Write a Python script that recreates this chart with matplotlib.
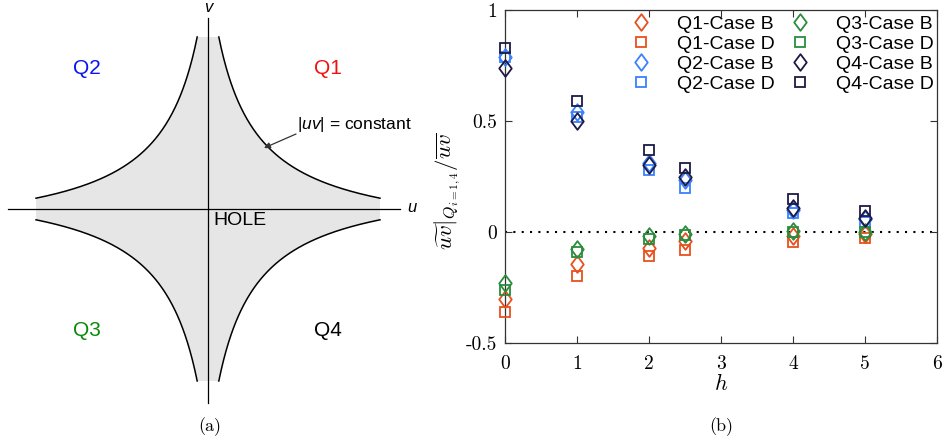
import numpy as np
import matplotlib
matplotlib.use("Agg")
import matplotlib.pyplot as plt
from matplotlib.path import Path

# ---------------- data ----------------
h = [0, 1, 2, 2.5, 4, 5]
q1_case_b = [-0.30, -0.145, -0.07, -0.04, -0.02, -0.01]
q1_case_d = [-0.36, -0.20, -0.11, -0.08, -0.045, -0.025]
q2_case_b = [0.79, 0.54, 0.31, 0.235, 0.10, 0.06]
q2_case_d = [0.79, 0.52, 0.28, 0.20, 0.085, 0.045]
q3_case_b = [-0.23, -0.075, -0.02, -0.01, 0.005, 0.0]
q3_case_d = [-0.26, -0.09, -0.03, -0.015, 0.0, 0.0]
q4_case_b = [0.74, 0.50, 0.30, 0.25, 0.11, 0.065]
q4_case_d = [0.83, 0.59, 0.37, 0.29, 0.15, 0.095]
series_labels = ["Q1-Case B", "Q1-Case D", "Q2-Case B", "Q2-Case D",
                 "Q3-Case B", "Q3-Case D", "Q4-Case B", "Q4-Case D"]
xticks = [0, 1, 2, 3, 4, 5, 6]
xticklabels = ["0", "1", "2", "3", "4", "5", "6"]
yticks = [-0.5, 0, 0.5, 1]
yticklabels = ["-0.5", "0", "0.5", "1"]

c_q1 = "#E8501E"
c_q2 = "#3A80FF"
c_q3 = "#2A8C3C"
c_q4 = "#1C1A45"

plt.rcParams['mathtext.fontset'] = 'cm'
plt.rcParams['mathtext.it'] = 'Liberation Sans:italic'
plt.rcParams['mathtext.rm'] = 'Liberation Sans'
W, H = 945, 445
fig = plt.figure(figsize=(W / 100, H / 100), dpi=100)

# ---------------- left panel: quadrant diagram ----------------
ox, oy = 208, 209
axL = fig.add_axes([0, 0, 440 / W, 1])
axL.set_xlim(0 - ox, 440 - ox)
axL.set_ylim(oy - H, oy)
axL.axis('off')

a_sh, c_sh = 30.6, 8390.0
L = 172.0
u_top = c_sh / (L + a_sh) - a_sh
uu = np.linspace(u_top, L, 200)
vv = c_sh / (uu + a_sh) - a_sh

px, py = [], []
px += list(uu); py += list(vv)
px += list(uu[::-1]); py += list(-vv[::-1])
px += list(-uu); py += list(-vv)
px += list(-uu[::-1]); py += list(vv[::-1])
axL.fill(px, py, color="#E6E6E6", lw=0, zorder=1)
for sx in (1, -1):
    for sy in (1, -1):
        axL.plot(sx * uu, sy * vv, color="black", lw=1.1, zorder=3)

axL.plot([8 - ox, 400 - ox], [0, 0], color="black", lw=0.9, zorder=2)
axL.plot([0, 0], [oy - 18, oy - 403], color="black", lw=0.9, zorder=2)

sans = ["Liberation Sans", "DejaVu Sans"]
axL.text(412 - ox, 1, "u", style="italic", family=sans, fontsize=12, ha="center", va="center")
axL.text(0, oy - 8, "v", style="italic", family=sans, fontsize=12, ha="center", va="center")
axL.text(87 - ox, oy - 68, "Q2", color="#0A14F0", family=sans, fontsize=15, ha="center", va="center")
axL.text(328 - ox, oy - 68, "Q1", color="#F01010", family=sans, fontsize=15, ha="center", va="center")
axL.text(87 - ox, oy - 330, "Q3", color="#0A8A0A", family=sans, fontsize=15, ha="center", va="center")
axL.text(328 - ox, oy - 330, "Q4", color="black", family=sans, fontsize=15, ha="center", va="center")
axL.text(213 - ox, oy - 221, "HOLE", color="black", family=sans, fontsize=14, ha="left", va="center")
axL.text(297 - ox, oy - 124, "|$\\mathit{uv}$| = constant", color="black", family=sans,
         fontsize=12.5, ha="left", va="center", math_fontfamily="custom")
axL.annotate("", xy=(264 - ox, oy - 148), xytext=(296 - ox, oy - 134),
             arrowprops=dict(arrowstyle="-|>", color="#333333", lw=0.9,
                             mutation_scale=9, shrinkA=0, shrinkB=0))

fig.text(210 / W, 1 - 427 / H, "(a)", family="cmr10", fontsize=13, ha="center", va="center")
fig.text(721 / W, 1 - 427 / H, "(b)", family="cmr10", fontsize=13, ha="center", va="center")

# ---------------- right panel ----------------
x0, x1, y0, y1 = 505, 937, 10, 343
axR = fig.add_axes([x0 / W, 1 - y1 / H, (x1 - x0) / W, (y1 - y0) / H])
axR.set_xlim(0, 6)
axR.set_ylim(-0.5, 1)
axR.axhline(0, color="black", lw=1.5, ls=(0, (1, 3)), zorder=1)

diamond = Path([(0, 1), (0.75, 0), (0, -1), (-0.75, 0), (0, 1)],
               [Path.MOVETO, Path.LINETO, Path.LINETO, Path.LINETO, Path.CLOSEPOLY])
series = [q1_case_b, q1_case_d, q2_case_b, q2_case_d,
          q3_case_b, q3_case_d, q4_case_b, q4_case_d]
cols = [c_q1, c_q1, c_q2, c_q2, c_q3, c_q3, c_q4, c_q4]
handles = []
for i, (vals, col, lab) in enumerate(zip(series, cols, series_labels)):
    if i % 2 == 0:
        mk, ms = diamond, 12
    else:
        mk, ms = "s", 7.5
    ln, = axR.plot(h, vals, ls="none", marker=mk, ms=ms, mfc="none", mec=col,
                   mew=1.3, label=lab, zorder=3 + i, clip_on=False)
    handles.append(ln)

axR.set_xticks(xticks)
axR.set_xticklabels(xticklabels)
axR.set_yticks(yticks)
axR.set_yticklabels(yticklabels)
for lab in axR.get_xticklabels() + axR.get_yticklabels():
    lab.set_family("cmr10")
    lab.set_fontsize(14)
axR.tick_params(axis="x", pad=9)
axR.tick_params(axis="y", pad=6)
axR.tick_params(direction="in", length=5, width=0.8, top=True, right=True,
                color="#333333")
for sp in axR.spines.values():
    sp.set_linewidth(0.9)
    sp.set_color("#333333")

axR.set_xlabel("$h$", fontsize=16, labelpad=0)
axR.set_ylabel(r"$\widetilde{uv}|_{Q_{i=1,4}}/\overline{uv}$", fontsize=16.5, math_fontfamily="cm",
               va="center")
axR.yaxis.set_label_coords((448 - x0) / (x1 - x0), (y1 - 191) / (y1 - y0))

leg = axR.legend(handles=handles, ncol=2, loc="upper left",
                 bbox_to_anchor=(624 / W, 1 - 15 / H), bbox_transform=fig.transFigure,
                 frameon=False, borderpad=0, borderaxespad=0,
                 handlelength=1.8, handletextpad=0.95, columnspacing=0.4,
                 labelspacing=0.13, prop=dict(family=sans, size=14))

fig.savefig("out.png", dpi=100)
